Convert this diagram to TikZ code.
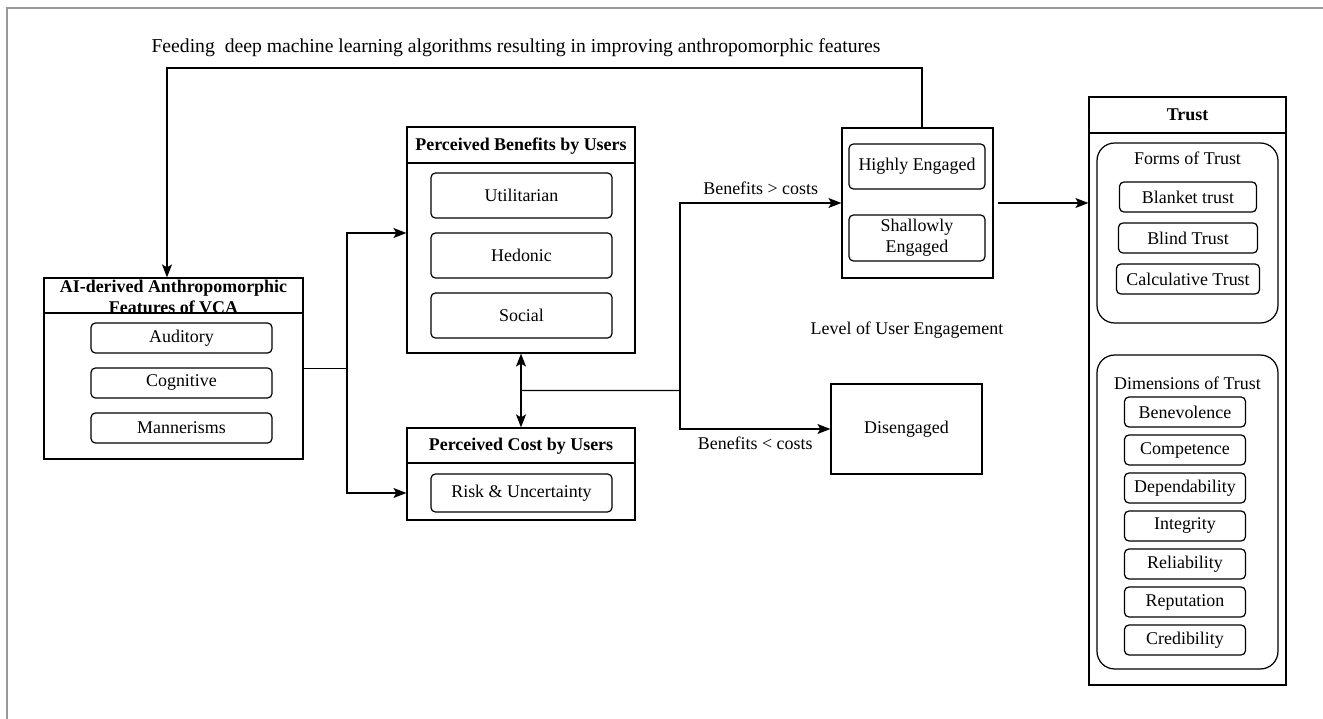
\documentclass[tikz,border=0pt]{standalone}
\usepackage{fontspec}
\setmainfont{Liberation Serif}
\usetikzlibrary{arrows.meta,calc}

\begin{document}
\begin{tikzpicture}[x=0.02cm, y=-0.02cm, line width=0.7pt,
	every node/.style={font=\fontsize{10.2}{12}\selectfont},
	>={Stealth[length=2.6mm, width=2mm, inset=0.6mm]},
	panel/.style={draw, inner sep=0pt},
	item/.style={draw, rounded corners=2.5pt, minimum height=0.6cm, align=center},
	grp/.style={draw, rounded corners=10pt, minimum width=3.62cm},
	hdr/.style={font=\fontsize{10.2}{12}\selectfont\bfseries, align=center}]
	\useasboundingbox (0,0) rectangle (1323,719);
	\draw[gray!80, line width=1pt] (1323,8) -- (7,8) -- (7,719);

	\node[panel, minimum width=5.18cm, minimum height=3.62cm] (feat) at (173.5,368.5) {};
	\draw (feat.north west |- 0,313) -- (feat.north east |- 0,313);
	\node[hdr] (feattitle) at (173.5,297) {AI-derived Anthropomorphic\\Features of VCA};
	\foreach \lbl [count=\i] in {Auditory, Cognitive, Mannerisms}
		{\node[item, minimum width=3.62cm] (feat\i) at (181.5,293+45*\i) {\lbl};}

	\node[panel, minimum width=4.56cm, minimum height=4.52cm] (ben) at (521,240) {};
	\draw (ben.north west |- 0,163) -- (ben.north east |- 0,163);
	\node[hdr] (bentitle) at (521,146) {Perceived Benefits by Users};
	\foreach \lbl [count=\i] in {Utilitarian, Hedonic, Social}
		{\node[item, minimum width=3.62cm, minimum height=0.9cm] (ben\i) at (521.5,135.5+60*\i) {\lbl};}

	\node[panel, minimum width=4.56cm, minimum height=1.84cm] (cost) at (521,474) {};
	\draw (cost.north west |- 0,463) -- (cost.north east |- 0,463);
	\node[hdr] (costtitle) at (521,446) {Perceived Cost by Users};
	\node[item, minimum width=3.62cm, minimum height=0.76cm] (risk) at (521.5,493) {Risk \& Uncertainty};

	\node[panel, minimum width=3.02cm, minimum height=3cm] (eng) at (917.5,203) {};
	\node[item, minimum width=2.72cm, minimum height=0.9cm] (high) at (917,166.5) {Highly Engaged};
	\node[item, minimum width=2.72cm, minimum height=0.92cm, inner sep=1pt] (shallow) at (917,238) {Shallowly\\Engaged};
	\node (level) at (907,330) {Level of User Engagement};
	\node[panel, minimum width=3.02cm, minimum height=1.8cm] (dis) at (906.5,429) {Disengaged};

	\node[panel, minimum width=3.94cm, minimum height=11.76cm] (trust) at (1187.5,391) {};
	\draw (trust.north west |- 0,133) -- (trust.north east |- 0,133);
	\node[hdr] (trusttitle) at (1187.5,115) {Trust};
	\node[grp, minimum height=3.6cm] (forms) at (1187.5,233) {};
	\node (formstitle) at (1187.5,158) {Forms of Trust};
	\foreach \lbl/\w [count=\i] in {Blanket trust/2.74, Blind Trust/2.78, Calculative Trust/2.86}
		{\node[item, minimum width=\w cm] (form\i) at (1188,156+41*\i) {\lbl};}
	\node[grp, minimum height=6.28cm] (dims) at (1187.5,512) {};
	\node (dimstitle) at (1187.5,383) {Dimensions of Trust};
	\foreach \lbl [count=\i] in {Benevolence, Competence, Dependability, Integrity, Reliability, Reputation, Credibility}
		{\node[item, minimum width=2.42cm] (dim\i) at (1185,374+38*\i) {\lbl};}

	\coordinate (fbR) at (922,68);
	\coordinate (fbL) at (167,68);
	\draw[->] (eng.north -| fbR) -- (fbR) -- (fbL) -- (fbL |- feat.north);
	\node[font=\fontsize{11.2}{13}\selectfont] (fbtext) at (516,48) {Feeding\ \ deep machine learning algorithms resulting in improving anthropomorphic features};

	\coordinate (split1) at (347,368.5);
	\draw (feat.east) -- (split1);
	\draw[->] (split1) |- ([yshift=0.14cm]ben.west);
	\draw[->] (split1) |- (cost.west |- risk);

	\draw[<->] (ben.south) -- (cost.north);
	\coordinate (mid) at ($(ben.south)!0.5!(cost.north)$);
	\coordinate (split2) at (680,390.5);
	\draw (mid) -- (split2);
	\draw[->] (split2) |- (eng.west) node[pos=0.75, above=1pt] (gt) {Benefits > costs};
	\draw[->] (split2) |- (dis.west) node[pos=0.75, below=1pt] (lt) {Benefits < costs};
	\draw[->] ([xshift=0.08cm]eng.east) -- (trust.west |- eng.east);
\end{tikzpicture}
\end{document}
